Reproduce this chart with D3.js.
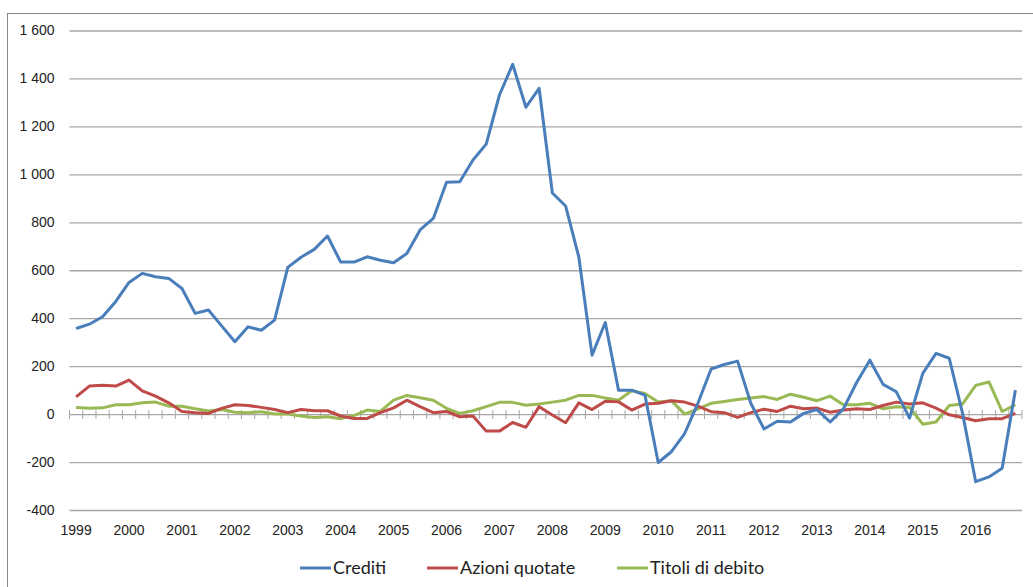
<!DOCTYPE html>
<html>
<head>
<meta charset="utf-8">
<script src="https://cdn.jsdelivr.net/npm/d3@7"></script>
<style>
  body { margin: 0; background: #fff; }
  svg { display: block; font-family: Lato, "Open Sans", sans-serif; }
</style>
</head>
<body>
<div id="container"></div>
<script>
// quarterly flows, 1999Q1 - 2016Q4
const years = d3.range(1999, 2017);
const quarters = years.flatMap(y => ["Q1", "Q2", "Q3", "Q4"].map(q => y + q));

const crediti = [357, 375, 406, 470, 549, 587, 573, 566, 524, 420, 434, 368,
    302, 364, 350, 392, 612, 654, 687, 743, 634, 634, 656, 642,
    631, 670, 768, 816, 967, 969, 1060, 1126, 1331, 1459, 1280, 1359,
    922, 868, 655, 246, 382, 100, 100, 79, -202, -157, -81, 45,
    188, 207, 221, 45, -62, -30, -33, 3, 19, -33, 22, 132,
    225, 124, 93, -17, 170, 253, 233, 5, -282, -262, -226, 100];

const azioni = [72, 117, 120, 117, 142, 97, 75, 47, 11, 6, 3, 24,
    39, 36, 28, 19, 6, 19, 14, 14, -8, -18, -18, 6,
    26, 58, 31, 6, 11, -11, -8, -71, -71, -35, -55, 31,
    -4, -36, 47, 19, 54, 51, 17, 42, 45, 56, 50, 33,
    10, 6, -14, 6, 20, 11, 33, 22, 25, 8, 17, 22,
    19, 36, 50, 42, 47, 25, -3, -14, -28, -19, -19, 3];

const titoli = [28, 24, 26, 39, 39, 47, 50, 33, 33, 22, 13, 19,
    8, 6, 10, 0, 0, -8, -14, -11, -19, -6, 17, 11,
    58, 78, 68, 58, 24, 3, 14, 31, 49, 49, 37, 42,
    50, 58, 78, 78, 67, 58, 97, 86, 50, 56, 0, 22,
    45, 53, 61, 67, 73, 61, 83, 70, 56, 75, 39, 39,
    45, 22, 31, 28, -42, -33, 36, 42, 120, 134, 11, 39];

const seriesNames = ["Crediti", "Azioni quotate", "Titoli di debito"];
const seriesColors = ["#4a7ebb", "#be4b48", "#98b954"];
const yTicks = [-400, -200, 0, 200, 400, 600, 800, 1000, 1200, 1400, 1600];

const width = 1033;
const height = 587;
const margin = {left: 69.5, right: 11, top: 30.5, bottom: 77};

const series = [crediti, azioni, titoli].map((values, k) => ({
    name: seriesNames[k],
    color: seriesColors[k],
    values: values.map((v, i) => ({q: quarters[i], v}))
}));

const x = d3.scaleBand()
    .domain(quarters)
    .range([margin.left, width - margin.right])
    .padding(0);

const y = d3.scaleLinear()
    .domain([-400, 1600])
    .range([height - margin.bottom, margin.top]);

const fmt = d3.formatLocale({decimal: ",", thousands: " ", grouping: [3], currency: ["", ""], minus: "-"}).format(",");

const svg = d3.create("svg")
    .attr("width", width)
    .attr("height", height)
    .attr("viewBox", [0, 0, width, height]);

// outer chart frame (runs past the edges of the picture)
svg.append("rect")
    .attr("x", 7.5)
    .attr("y", 13.5)
    .attr("width", width + 20)
    .attr("height", height + 20)
    .attr("fill", "none")
    .attr("stroke", "#8a8a8a");

// gridlines + y labels
const yAxis = svg.append("g")
    .attr("transform", `translate(${margin.left},0)`)
    .call(d3.axisLeft(y)
        .tickValues(yTicks)
        .tickSize(-(width - margin.left - margin.right))
        .tickPadding(15)
        .tickFormat(fmt));
yAxis.select(".domain").remove();
yAxis.selectAll(".tick line")
    .attr("stroke", "#a6a6a6")
    .attr("stroke-width", 1.3);
yAxis.selectAll(".tick text")
    .attr("fill", "#222")
    .attr("font-size", 14);

// zero axis with cross tick marks at quarter boundaries
const zeroAxis = svg.append("g")
    .attr("transform", `translate(0,${y(0)})`);
const bounds = quarters.map(q => x(q)).concat([x.range()[1]]);
zeroAxis.selectAll("line.qtick")
    .data(bounds)
    .join("line")
    .attr("class", "qtick")
    .attr("x1", d => d).attr("x2", d => d)
    .attr("y1", -4).attr("y2", 5)
    .attr("stroke", "#a6a6a6")
    .attr("stroke-width", 1);

// year labels at the bottom
const xAxis = svg.append("g")
    .attr("transform", `translate(0,${y(-400)})`)
    .call(d3.axisBottom(x)
        .tickValues(quarters.filter(q => q.endsWith("Q1")))
        .tickSize(0)
        .tickPadding(15)
        .tickFormat(q => q.slice(0, 4)));
xAxis.select(".domain").remove();
xAxis.selectAll(".tick text")
    .attr("fill", "#222")
    .attr("font-size", 14);

// lines
const line = d3.line()
    .x(d => x(d.q) + x.bandwidth() / 2)
    .y(d => y(d.v));

svg.append("g")
    .selectAll("path")
    .data(series.slice().reverse())
    .join("path")
    .attr("fill", "none")
    .attr("stroke", d => d.color)
    .attr("stroke-width", 3)
    .attr("stroke-linejoin", "round")
    .attr("d", d => line(d.values));

// legend
const legendX = [300, 427, 617];
const legend = svg.append("g")
    .selectAll("g")
    .data(series)
    .join("g")
    .attr("transform", (d, i) => `translate(${legendX[i]},568)`);
legend.append("line")
    .attr("x1", 0).attr("x2", 31)
    .attr("stroke", d => d.color)
    .attr("stroke-width", 3);
legend.append("text")
    .attr("x", 33)
    .attr("dy", "0.35em")
    .attr("font-size", 18)
    .attr("fill", "#222")
    .text(d => d.name);

d3.select("#container").append(() => svg.node());
</script>
</body>
</html>
